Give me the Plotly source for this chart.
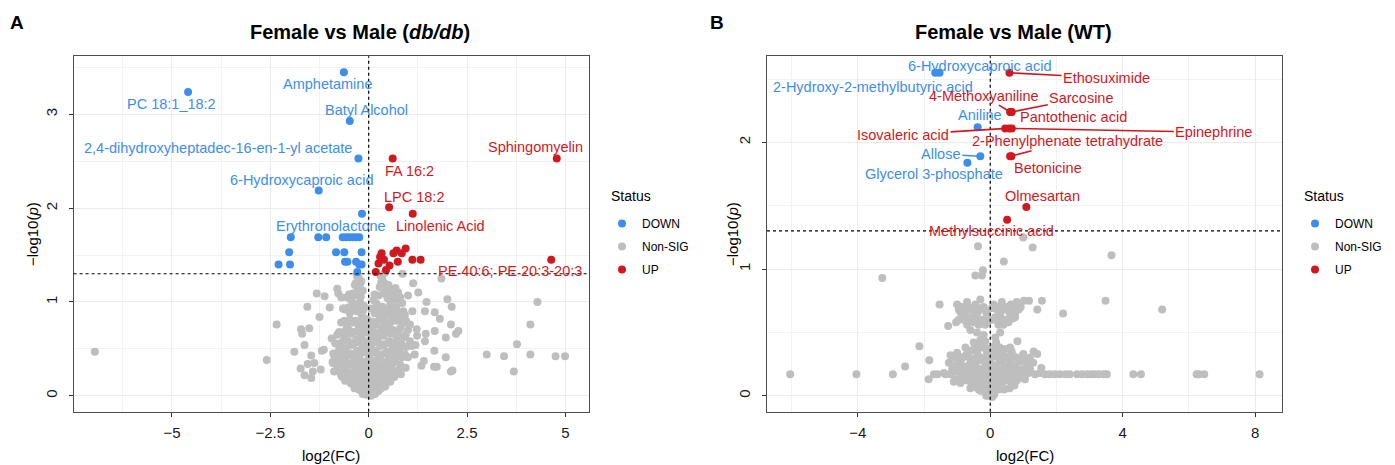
import plotly.graph_objects as go

# ---------------- Panel A : Female vs Male (db/db) ----------------
a_nonsig_x = [
    -2.34, -2.59, -1.89, -1.72, -1.69, -1.51, -1.56, -1.25, -1.32, -1.12, -0.99, -0.94, -0.80, -0.77, -0.65, -0.70,
    -1.63, -1.46, -1.73, -1.63, -1.55, -1.38, -1.42, -1.46, -1.19, -1.22, -1.14, -0.67, -0.87, -0.91, -0.44,
    0.86, 1.13, 1.26, 1.47, 1.00, 1.11, 1.43, 1.68, 1.81, 2.00, 2.11, 2.09, 2.28, 2.22, 1.96, 1.68, 1.45, 1.43,
    1.22, 1.23, 1.67, 1.96, 2.13, 1.40, 1.34, 1.66, 1.73, 1.19, 1.17, 1.00, 0.94, 3.00, 3.44, 1.85,
    -6.96, 3.69, 3.77, 4.11, 4.29, 4.11, 4.75, 4.99, 2.09,
    -0.30, -0.25, -0.20, -0.35, -0.28, -0.15, 0.30, 0.35, 0.40, 0.28, 0.45, 0.50, 0.75, 0.80, 0.62,
    -0.55, -0.45, -0.38, -0.22, -0.12, -0.60, -0.48, -0.30, -0.18, -0.08, 0.12, 0.20, 0.35, 0.55, 0.70, 0.88,
    0.15, 0.30, 0.45, 0.60, 0.78, 0.95,
    -0.70, -0.55, -0.40, -0.25, -0.12, -0.05, 0.05, 0.18, 0.32, 0.48, 0.62, 0.80, 1.00,
    -0.80, -0.62, -0.45, -0.32, -0.18, -0.06, 0.08, 0.22, 0.38, 0.52, 0.70, 0.88, 1.05,
    -0.75, -0.58, -0.42, -0.28, -0.15, -0.04, 0.06, 0.18, 0.30, 0.45, 0.60, 0.78, 0.95,
    -0.85, -0.68, -0.52, -0.38, -0.24, -0.12, 0.00, 0.12, 0.25, 0.38, 0.52, 0.68, 0.85,
    -0.80, -0.62, -0.48, -0.34, -0.20, -0.08, 0.04, 0.16, 0.28, 0.42, 0.58, 0.75,
    -0.70, -0.55, -0.40, -0.27, -0.14, -0.02, 0.10, 0.22, 0.36, 0.50, 0.65,
    -0.45, -0.32, -0.20, -0.08, 0.05, 0.18, 0.30, 0.42,
    -0.22, -0.10, 0.02, 0.12, 0.25, -0.05, 0.06,
    -0.27, -0.19, 0.33, 0.40,
    -0.33, -0.22, 0.32, 0.42, 0.55, 0.68,
    -0.50, -0.40, -0.32, -0.20, 0.15, 0.25, 0.38, 0.48, 0.58, 0.70, 0.85,
    -0.65, -0.52, -0.42, -0.34, -0.26, -0.14, 0.06, 0.22, 0.40, 0.50, 0.62, 0.76, 0.92,
    -0.62, -0.48, -0.33, -0.20, -0.02, 0.10, 0.25, 0.40, 0.55, 0.70, 0.86, 1.05,
    -0.75, -0.60, -0.50, -0.38, -0.22, -0.10, 0.00, 0.14, 0.28, 0.44, 0.56, 0.74, 0.94,
    -0.85, -0.68, -0.52, -0.36, -0.24, -0.10, 0.02, 0.13, 0.26, 0.40, 0.54, 0.66, 0.84, 1.10,
    -0.90, -0.78, -0.62, -0.46, -0.32, -0.20, -0.08, 0.04, 0.15, 0.32, 0.44, 0.58, 0.74, 0.92,
    -0.92, -0.74, -0.58, -0.44, -0.30, -0.16, -0.04, 0.08, 0.20, 0.34, 0.48, 0.62, 0.80,
    -0.88, -0.72, -0.56, -0.42, -0.28, -0.15, -0.04, 0.09, 0.22, 0.35, 0.50, 0.66, 0.82,
    -0.60, -0.48, -0.34, -0.22, -0.10, 0.02, 0.15, 0.27, 0.40, 0.55,
    -0.36, -0.26, -0.15, -0.03, 0.08, 0.19, 0.32,
    -0.15, 0.16,
]
a_nonsig_y = [
    0.76, 0.38, 0.47, 0.71, 0.66, 0.72, 0.95, 0.84, 1.09, 1.06, 0.94, 0.61, 1.14, 1.09, 0.93, 1.05,
    0.54, 0.43, 0.29, 0.22, 0.34, 0.35, 0.26, 0.19, 0.48, 0.28, 0.49, 0.20, 0.42, 0.35, 0.14,
    1.30, 1.20, 1.10, 1.00, 1.07, 0.90, 0.90, 0.89, 0.82, 1.03, 0.95, 0.76, 0.69, 0.66, 0.62, 0.69, 0.66, 0.58,
    0.71, 0.64, 0.48, 0.41, 0.27, 0.37, 0.32, 0.31, 0.31, 0.54, 0.44, 0.41, 0.30, 0.44, 0.42, 1.25,
    0.47, 0.26, 0.55, 0.76, 1.00, 0.44, 0.42, 0.42, 0.26,
    1.28, 1.25, 1.22, 1.18, 1.15, 1.12, 1.28, 1.24, 1.20, 1.16, 1.12, 1.18, 1.10, 1.05, 1.08,
    1.05, 1.02, 0.98, 1.00, 0.96, 0.92, 0.88, 0.90, 0.86, 0.82, 1.02, 0.98, 0.95, 0.98, 0.94, 0.90,
    0.88, 0.85, 0.86, 0.84, 0.82, 0.80,
    0.78, 0.75, 0.78, 0.74, 0.70, 0.76, 0.72, 0.76, 0.72, 0.74, 0.70, 0.72, 0.70,
    0.65, 0.62, 0.66, 0.60, 0.63, 0.58, 0.62, 0.60, 0.64, 0.58, 0.60, 0.62, 0.58,
    0.52, 0.50, 0.54, 0.48, 0.52, 0.46, 0.52, 0.48, 0.53, 0.47, 0.50, 0.48, 0.52,
    0.42, 0.40, 0.43, 0.38, 0.41, 0.36, 0.40, 0.37, 0.42, 0.36, 0.40, 0.38, 0.41,
    0.32, 0.30, 0.33, 0.28, 0.31, 0.27, 0.30, 0.26, 0.31, 0.28, 0.30, 0.27,
    0.22, 0.20, 0.23, 0.18, 0.21, 0.17, 0.22, 0.18, 0.21, 0.17, 0.20,
    0.13, 0.11, 0.14, 0.10, 0.13, 0.09, 0.12, 0.10,
    0.06, 0.04, 0.06, 0.03, 0.05, 0.01, 0.00,
    1.26, 1.22, 1.27, 1.31,
    1.20, 1.19, 1.21, 1.19, 1.14, 1.15,
    1.08, 1.09, 1.07, 1.06, 1.08, 1.07, 1.09, 1.04, 1.06, 1.02, 0.99,
    0.93, 0.94, 0.92, 0.95, 0.93, 0.91, 0.93, 0.92, 0.91, 0.93, 0.90, 0.89, 0.86,
    0.80, 0.81, 0.80, 0.79, 0.81, 0.79, 0.80, 0.79, 0.78, 0.80, 0.77, 0.76,
    0.68, 0.69, 0.70, 0.68, 0.67, 0.69, 0.67, 0.68, 0.66, 0.68, 0.66, 0.67, 0.65,
    0.56, 0.57, 0.58, 0.56, 0.57, 0.55, 0.56, 0.57, 0.56, 0.55, 0.56, 0.54, 0.55, 0.53,
    0.45, 0.46, 0.47, 0.45, 0.46, 0.45, 0.47, 0.45, 0.46, 0.44, 0.45, 0.44, 0.45, 0.44,
    0.36, 0.35, 0.36, 0.34, 0.36, 0.35, 0.34, 0.35, 0.34, 0.35, 0.34, 0.35, 0.33,
    0.26, 0.25, 0.26, 0.25, 0.24, 0.26, 0.25, 0.24, 0.26, 0.24, 0.25, 0.24, 0.23,
    0.16, 0.15, 0.16, 0.15, 0.16, 0.14, 0.15, 0.16, 0.14, 0.15,
    0.08, 0.07, 0.08, 0.07, 0.08, 0.07, 0.08,
    0.02, 0.02,
]
a_down_x = [-0.63, -4.59, -0.48, -0.26, -1.27, -0.17,
            -1.98, -1.28, -1.08, -0.66, -0.57, -0.49, -0.40, -0.32, -0.24,
            -2.02, -0.83, -0.62, -0.18, -0.60, -0.54, -0.32, -2.29, -2.00, -0.24, -0.18, -0.29]
a_down_y = [3.45, 3.24, 2.93, 2.53, 2.19, 1.94,
            1.69, 1.69, 1.69, 1.69, 1.69, 1.69, 1.69, 1.69, 1.69,
            1.53, 1.53, 1.53, 1.53, 1.43, 1.43, 1.43, 1.40, 1.40, 1.40, 1.40, 1.32]
a_up_x = [4.78, 0.61, 0.52, 1.12, 4.64,
          0.33, 0.63, 0.71, 0.84, 0.94, 0.25, 0.39, 0.53, 0.74, 1.11, 1.32, 0.44, 0.18, 0.29]
a_up_y = [2.53, 2.53, 2.01, 1.94, 1.45,
          1.52, 1.52, 1.55, 1.52, 1.57, 1.41, 1.45, 1.39, 1.43, 1.45, 1.45, 1.34, 1.32, 1.48]
a_down_labels = ["Amphetamine", "PC 18:1_18:2", "Batyl Alcohol",
                 "2,4-dihydroxyheptadec-16-en-1-yl acetate", "6-Hydroxycaproic acid", "Erythronolactone"]
a_up_labels = ["Sphingomyelin", "FA 16:2", "LPC 18:2", "Linolenic Acid", "PE 40:6; PE 20:3-20:3"]
a_x_ticks = [-5, -2.5, 0, 2.5, 5]
a_y_ticks = [0, 1, 2, 3]

# ---------------- Panel B : Female vs Male (WT) ----------------
b_nonsig_x = [
    -6.04, -4.04, -2.94, -2.57, -2.14, -1.86, -1.84, -1.70, -1.59, -1.35, -3.26, -1.53, -1.27, -1.03, -1.10,
    -0.37, -0.45, -0.22, -0.25, 0.41, 1.00, 1.28, 3.66, 3.48, 5.19, 2.20, 1.56, 1.42, 1.17, 1.02, 0.75, 0.82,
    1.31, 1.42, 1.54, 1.17, 0.96, 0.73,
    2.27, 2.40, 2.62, 2.77, 2.92, 3.05, 3.15, 3.27, 3.42, 3.52, 4.32, 4.55, 6.23, 6.30, 6.46, 8.13,
    -1.00, -0.85, -0.70, -0.60, -0.45, -0.30, -0.20, -0.12, -0.90, -0.75, -0.55, -0.38, -0.25, -0.10,
    0.10, 0.20, 0.35, 0.50, 0.62, 0.80, 0.92, 0.15, 0.30, 0.45, 0.60, 0.75, 0.40, 0.55, 0.25,
    -0.50, -0.35, -0.15, -0.70, -0.60, -0.95, -0.40, -0.20, 0.30, 0.15,
    -0.30, -0.15, -0.50, 0.18, 0.25,
    -1.20, -1.00, -0.85, -0.70, -0.55, -0.40, -0.25, -0.10, 0.05, 0.20, 0.35, 0.50, 0.65, 0.80, 1.00, 1.20,
    -1.25, -1.05, -0.90, -0.75, -0.60, -0.45, -0.30, -0.15, 0.00, 0.15, 0.30, 0.45, 0.60, 0.75, 0.90, 1.10, 1.30,
    -1.40, -1.20, -1.00, -0.80, -0.65, -0.50, -0.35, -0.20, -0.05, 0.10, 0.25, 0.40, 0.55, 0.70, 0.85, 1.00,
    1.15, 1.35, 1.50, 1.65, 1.80, 1.95, 2.10,
    -0.90, -0.70, -0.55, -0.40, -0.25, -0.10, 0.05, 0.20, 0.35, 0.50, 0.65, 0.80,
    -0.30, -0.15, 0.00, 0.12, 0.25, -0.05, 0.06,
    -0.95, -0.80, -0.65, -0.50, -0.35, -0.18, 0.05, 0.25, 0.42, 0.56, 0.70, 0.86,
    -0.80, -0.65, -0.45, -0.30, -0.05, 0.08, 0.22, 0.38, 0.52, 0.68,
    -0.75, -0.45, -0.30, -0.15, 0.00, 0.12, 0.28, 0.45, 0.60,
    -1.10, -0.95, -0.78, -0.62, -0.48, -0.35, -0.20, -0.05, 0.10, 0.25, 0.42, 0.58, 0.72, 0.88, 1.08,
    -1.15, -0.95, -0.82, -0.70, -0.55, -0.40, -0.27, -0.12, 0.02, 0.18, 0.33, 0.48, 0.62, 0.78, 0.95, 1.20,
    -1.05, -0.88, -0.75, -0.60, -0.45, -0.32, -0.18, -0.02, 0.12, 0.28, 0.43, 0.58, 0.72, 0.90, 1.05,
    -0.60, -0.45, -0.35, -0.20, -0.08, 0.04, 0.16, 0.30, 0.42, 0.58,
    -0.12, 0.12,
]
b_nonsig_y = [
    0.17, 0.17, 0.17, 0.23, 0.39, 0.13, 0.28, 0.17, 0.17, 0.17, 0.93, 0.72, 0.55, 0.58, 0.11,
    1.18, 0.95, 0.99, 0.95, 1.06, 1.25, 1.17, 1.11, 0.75, 0.68, 0.65, 0.75, 0.68, 0.75, 0.75, 0.62, 0.43,
    0.35, 0.33, 0.22, 0.28, 0.31, 0.08,
    0.17, 0.17, 0.17, 0.17, 0.17, 0.17, 0.17, 0.17, 0.17, 0.17, 0.17, 0.17, 0.17, 0.17, 0.17, 0.17,
    0.72, 0.70, 0.74, 0.68, 0.72, 0.76, 0.70, 0.66, 0.66, 0.64, 0.62, 0.66, 0.60, 0.62,
    0.72, 0.68, 0.74, 0.70, 0.72, 0.74, 0.70, 0.62, 0.64, 0.60, 0.64, 0.66, 0.56, 0.58, 0.56,
    0.58, 0.56, 0.56, 0.56, 0.52, 0.60, 0.50, 0.48, 0.50, 0.46,
    0.44, 0.43, 0.42, 0.42, 0.38,
    0.32, 0.34, 0.30, 0.33, 0.36, 0.34, 0.38, 0.35, 0.33, 0.36, 0.34, 0.31, 0.35, 0.30, 0.33, 0.30,
    0.26, 0.24, 0.27, 0.23, 0.26, 0.24, 0.28, 0.25, 0.27, 0.24, 0.27, 0.23, 0.26, 0.24, 0.27, 0.24, 0.26,
    0.18, 0.17, 0.19, 0.17, 0.18, 0.16, 0.19, 0.17, 0.19, 0.16, 0.18, 0.17, 0.19, 0.16, 0.18, 0.17,
    0.18, 0.17, 0.18, 0.17, 0.17, 0.17, 0.17,
    0.10, 0.12, 0.09, 0.11, 0.08, 0.10, 0.08, 0.11, 0.09, 0.12, 0.10, 0.12,
    0.04, 0.03, 0.02, 0.04, 0.05, 0.00, -0.01,
    0.68, 0.69, 0.70, 0.67, 0.69, 0.68, 0.69, 0.70, 0.68, 0.67, 0.69, 0.68,
    0.60, 0.59, 0.61, 0.60, 0.59, 0.60, 0.61, 0.60, 0.59, 0.61,
    0.38, 0.37, 0.39, 0.38, 0.37, 0.39, 0.38, 0.37, 0.38,
    0.30, 0.29, 0.31, 0.30, 0.29, 0.31, 0.30, 0.29, 0.31, 0.30, 0.29, 0.30, 0.31, 0.29, 0.28,
    0.21, 0.22, 0.21, 0.22, 0.21, 0.22, 0.21, 0.22, 0.21, 0.22, 0.21, 0.22, 0.21, 0.22, 0.21, 0.21,
    0.13, 0.14, 0.13, 0.14, 0.13, 0.14, 0.13, 0.14, 0.13, 0.14, 0.13, 0.14, 0.13, 0.14, 0.13,
    0.06, 0.07, 0.05, 0.06, 0.07, 0.05, 0.06, 0.07, 0.05, 0.06,
    0.00, 0.01,
]
b_down_x = [-1.53, -1.66, -0.38, -0.30, -0.69]
b_down_y = [2.55, 2.55, 2.12, 1.89, 1.84]
b_down_labels = ["6-Hydroxycaproic acid", "2-Hydroxy-2-methylbutyric acid", "Aniline", "Allose",
                 "Glycerol 3-phosphate"]
b_up_x = [0.58, 0.60, 0.65, 0.62, 0.45, 0.65, 0.60, 0.64, 1.09, 0.51, 0.57]
b_up_y = [2.55, 2.24, 2.24, 2.24, 2.11, 2.11, 1.89, 1.89, 1.49, 1.39, 2.11]
b_up_labels = ["Ethosuximide", "4-Methoxyaniline", "Sarcosine", "Pantothenic acid", "Isovaleric acid",
               "Epinephrine", "2-Phenylphenate tetrahydrate", "Betonicine", "Olmesartan",
               "Methylsuccinic acid", ""]
b_x_ticks = [-4, 0, 4, 8]
b_y_ticks = [0, 1, 2]

# ---------------- label placement (layout, data coordinates) ----------------
a_down_label_pos = [(-1.04, 3.32), (-5.01, 3.11), (-0.05, 3.05), (-3.84, 2.64), (-1.72, 2.30), (-0.97, 1.81)]
a_up_label_pos = [(4.24, 2.65), (1.03, 2.40), (1.16, 2.12), (1.83, 1.81), (3.60, 1.33)]
# (x, y, draw connector)
b_down_label_pos = [(-0.31, 2.60, False), (-3.55, 2.44, False), (-0.30, 2.22, False), (-1.49, 1.91, True),
                    (-1.70, 1.75, False)]
b_up_label_pos = [(3.51, 2.51, True), (-0.20, 2.37, True), (2.75, 2.35, True), (2.52, 2.20, False),
                  (-2.63, 2.06, True), (6.75, 2.08, True), (2.33, 2.01, True), (1.75, 1.80, False),
                  (1.57, 1.58, False), (0.03, 1.30, False), None]

BLUE = "#3D8EEA"
RED = "#D0191E"
GREY = "#BEBEBE"
FONT = "Liberation Sans, Arial, sans-serif"
W, H = 1395, 465

fig = go.Figure()

def add_panel(xa, ya, leg, gx, gy, dx, dy, ux, uy):
    fig.add_trace(go.Scatter(x=gx, y=gy, mode="markers", name="Non-SIG", xaxis=xa, yaxis=ya,
                             marker=dict(color=GREY, size=8), legend=leg, legendrank=2,
                             legendgroup=leg + "ns", hoverinfo="skip"))
    fig.add_trace(go.Scatter(x=dx, y=dy, mode="markers", name="DOWN", xaxis=xa, yaxis=ya,
                             marker=dict(color=BLUE, size=8), legend=leg, legendrank=1,
                             legendgroup=leg + "dn", hoverinfo="skip"))
    fig.add_trace(go.Scatter(x=ux, y=uy, mode="markers", name="UP", xaxis=xa, yaxis=ya,
                             marker=dict(color=RED, size=8), legend=leg, legendrank=3,
                             legendgroup=leg + "up", hoverinfo="skip"))

add_panel("x", "y", "legend", a_nonsig_x, a_nonsig_y, a_down_x, a_down_y, a_up_x, a_up_y)
add_panel("x2", "y2", "legend2", b_nonsig_x, b_nonsig_y, b_down_x, b_down_y, b_up_x, b_up_y)

annotations = []
LFS = 14.5

def label(xr, yr, text, color, px, py, tx, ty, line):
    if line:
        annotations.append(dict(xref=xr, yref=yr, x=px, y=py, ax=tx, ay=ty, axref=xr, ayref=yr,
                                text=text, showarrow=True, arrowhead=0, arrowwidth=1.6,
                                arrowcolor=color, standoff=2,
                                font=dict(family=FONT, size=LFS, color=color)))
    else:
        annotations.append(dict(xref=xr, yref=yr, x=tx, y=ty, text=text, showarrow=False,
                                font=dict(family=FONT, size=LFS, color=color)))

for i, t in enumerate(a_down_labels):
    tx, ty = a_down_label_pos[i]
    label("x", "y", t, BLUE, a_down_x[i], a_down_y[i], tx, ty, False)
for i, t in enumerate(a_up_labels):
    tx, ty = a_up_label_pos[i]
    label("x", "y", t, RED, a_up_x[i], a_up_y[i], tx, ty, False)
for i, t in enumerate(b_down_labels):
    tx, ty, ln = b_down_label_pos[i]
    label("x2", "y2", t, BLUE, b_down_x[i], b_down_y[i], tx, ty, ln)
for i, t in enumerate(b_up_labels):
    if not t:
        continue
    tx, ty, ln = b_up_label_pos[i]
    label("x2", "y2", t, RED, b_up_x[i], b_up_y[i], tx, ty, ln)

def paper_text(x, y, text, size, angle=0, color="black", xanchor="center"):
    annotations.append(dict(xref="paper", yref="paper", x=x / W, y=1 - y / H, text=text,
                            showarrow=False, textangle=angle, xanchor=xanchor, yanchor="middle",
                            font=dict(family=FONT, size=size, color=color)))

paper_text(17, 23, "<b>A</b>", 19)
paper_text(717, 23, "<b>B</b>", 19)
paper_text(360, 32, "<b>Female vs Male (<i>db/db</i>)</b>", 20)
paper_text(1013, 32, "<b>Female vs Male (WT)</b>", 20)
paper_text(331, 455, "log2(FC)", 15)
paper_text(1024.5, 455, "log2(FC)", 15)
paper_text(33, 234, "−log10(<i>p</i>)", 15, angle=-90)
paper_text(733, 234, "−log10(<i>p</i>)", 15, angle=-90)
paper_text(609, 196, "Status", 14, xanchor="left")
paper_text(1302, 196, "Status", 14, xanchor="left")

shapes = []
for xr, yr in (("x", "y"), ("x2", "y2")):
    shapes.append(dict(type="line", xref=xr, yref=yr + " domain", x0=0, x1=0, y0=0, y1=1,
                       line=dict(color="black", width=1.2, dash="dot")))
    shapes.append(dict(type="line", xref=xr + " domain", yref=yr, x0=0, x1=1, y0=1.30103, y1=1.30103,
                       line=dict(color="black", width=1.2, dash="dot")))

ydom = [(H - 411.7) / H, (H - 56.3) / H]
axis_common = dict(showline=True, mirror=True, linecolor="#4D4D4D", linewidth=1,
                   ticks="outside", ticklen=4, tickcolor="#333333", tickwidth=1,
                   showgrid=True, gridcolor="#EBEBEB", gridwidth=1.2, zeroline=False,
                   tickfont=dict(family=FONT, size=15, color="#1A1A1A"))

def minor(step):
    return dict(tick0=0, dtick=step, showgrid=True, gridcolor="#F2F2F2", gridwidth=0.8, ticks="")

legend_common = dict(xanchor="left", yanchor="top", font=dict(family=FONT, size=12, color="black"),
                     tracegroupgap=4, bgcolor="rgba(0,0,0,0)")

fig.update_layout(
    width=W, height=H, autosize=False,
    margin=dict(l=0, r=0, t=0, b=0),
    paper_bgcolor="white", plot_bgcolor="white",
    font=dict(family=FONT),
    xaxis=dict(domain=[73.6 / W, 589 / W], range=[-7.5, 5.6], tickmode="array", tickvals=a_x_ticks,
               ticklabelstandoff=3, minor=minor(1.25), anchor="y", **axis_common),
    yaxis=dict(domain=ydom, range=[-0.17, 3.62], tickmode="array", tickvals=a_y_ticks, tickangle=-90,
               ticklabelstandoff=6, minor=minor(0.5), anchor="x", **axis_common),
    xaxis2=dict(domain=[767 / W, 1282.4 / W], range=[-6.74, 8.82], tickmode="array", tickvals=b_x_ticks,
                ticklabelstandoff=3, minor=minor(2), anchor="y2", **axis_common),
    yaxis2=dict(domain=ydom, range=[-0.126, 2.68], tickmode="array", tickvals=b_y_ticks, tickangle=-90,
                ticklabelstandoff=6, minor=minor(0.5), anchor="x2", **axis_common),
    legend=dict(x=602 / W, y=1 - 209 / H, **legend_common),
    legend2=dict(x=1295 / W, y=1 - 209 / H, **legend_common),
    annotations=annotations,
    shapes=shapes,
)

fig.write_html("out.html", config={"displayModeBar": False},
               post_script="document.body.style.margin='0px';")
